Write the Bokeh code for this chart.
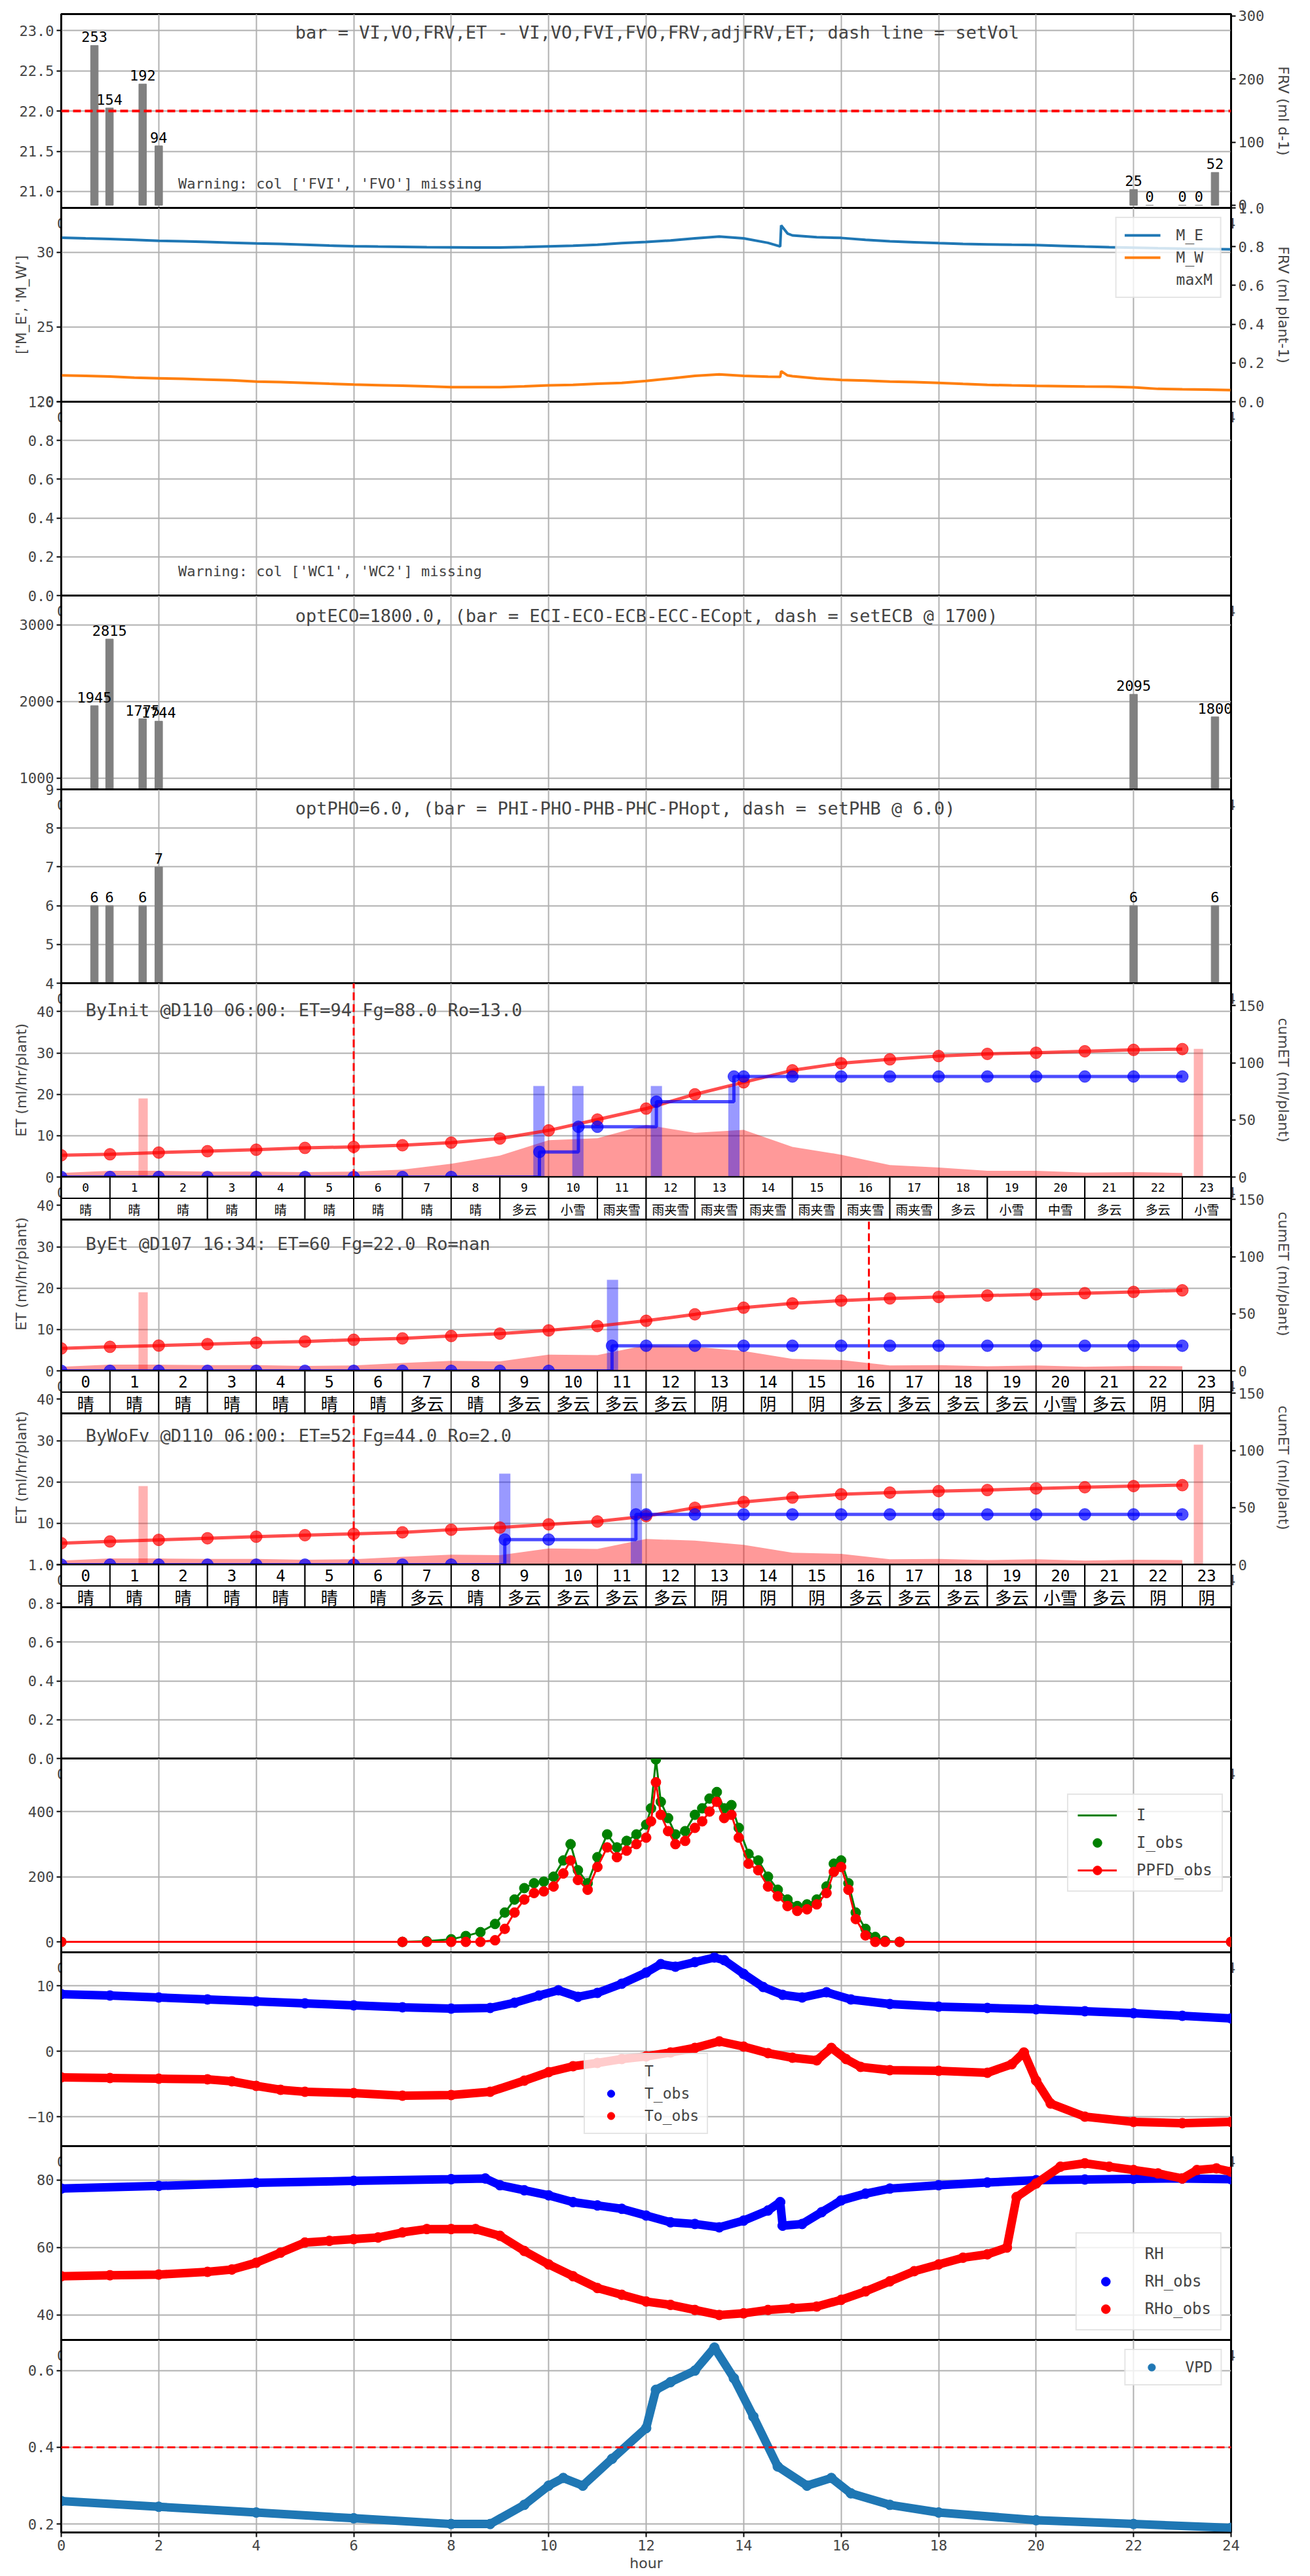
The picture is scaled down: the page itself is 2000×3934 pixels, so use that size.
from bokeh.plotting import figure
from bokeh.models import (Range1d, LinearAxis, FixedTicker, Label, Span, Legend,
                          LegendItem, NumeralTickFormatter)
from bokeh.layouts import column
from bokeh.core.properties import value
from bokeh.embed import file_html
from bokeh.resources import INLINE

MONO = "DejaVu Sans Mono"
SANS = "DejaVu Sans"
CJK = "Noto Sans CJK SC"

# ---------------- data ----------------
bar_x = [0.68, 0.99, 1.67, 2.0, 22.0, 22.33, 23.0, 23.34, 23.67]
frv = [253, 154, 192, 94, 25, 0, 0, 0, 52]
set_vol = 22.0
ec_x = [0.68, 0.99, 1.67, 2.0, 22.0, 23.67]
eco = [1945, 2815, 1775, 1744, 2095, 1800]
pho = [6, 6, 6, 7, 6, 6]
day_ticks = [0, 1, 2, 3, 4]

m_t = [0, 0.5, 1, 1.5, 2, 2.5, 3, 3.5, 4, 4.5, 5, 5.5, 6, 6.5, 7, 7.5, 8, 8.5, 9, 9.5,
       10, 10.5, 11, 11.5, 12, 12.5, 13, 13.5, 14, 14.5, 14.75, 14.77, 14.9, 15, 15.5,
       16, 16.5, 17, 17.5, 18, 18.5, 19, 19.5, 20, 20.5, 21, 21.5, 22, 22.5, 23, 23.5, 24]
m_e = [30.97, 30.92, 30.88, 30.82, 30.76, 30.72, 30.68, 30.63, 30.58, 30.55, 30.5, 30.44,
       30.4, 30.37, 30.35, 30.33, 30.32, 30.31, 30.31, 30.34, 30.39, 30.43, 30.5, 30.6,
       30.68, 30.78, 30.92, 31.04, 30.92, 30.62, 30.38, 31.79, 31.25, 31.12, 31.0, 30.95,
       30.82, 30.72, 30.66, 30.6, 30.55, 30.52, 30.49, 30.47, 30.42, 30.37, 30.33, 30.3,
       30.26, 30.23, 30.21, 30.19]
m_w = [21.75, 21.72, 21.68, 21.6, 21.56, 21.52, 21.47, 21.42, 21.34, 21.3, 21.25, 21.19,
       21.14, 21.1, 21.06, 21.02, 20.97, 20.97, 20.97, 21.02, 21.09, 21.12, 21.2, 21.25,
       21.38, 21.55, 21.72, 21.82, 21.72, 21.67, 21.65, 22.03, 21.75, 21.7, 21.55, 21.45,
       21.4, 21.34, 21.3, 21.25, 21.18, 21.12, 21.08, 21.05, 21.03, 21.01, 21.0, 20.95,
       20.85, 20.82, 20.8, 20.77]

hours = [0, 1, 2, 3, 4, 5, 6, 7, 8, 9, 10, 11, 12, 13, 14, 15, 16, 17, 18, 19, 20, 21, 22, 23]
et_a = [1.0, 1.5, 1.5, 1.3, 1.3, 1.2, 1.3, 1.8, 3.2, 5.2, 8.9, 9.4, 12.6, 10.7, 11.4, 7.3,
        5.4, 2.9, 2.3, 1.5, 1.5, 1.05, 1.2, 1.0]
et_b = [1.0, 1.5, 1.5, 1.4, 1.4, 1.2, 1.3, 1.9, 2.4, 2.3, 3.9, 3.8, 6.2, 5.8, 4.8, 2.9,
        2.6, 1.3, 1.4, 1.1, 1.3, 1.0, 1.2, 1.1]
cum_init = [19.0, 19.9, 21.4, 22.6, 23.9, 25.5, 26.4, 27.8, 30.1, 33.7, 40.8, 50.3, 59.9,
            72.4, 82.9, 93.4, 99.6, 103.0, 105.9, 107.8, 108.8, 110.1, 111.3, 112.0]
cum_byet = [19.6, 21.0, 22.1, 23.4, 24.6, 25.7, 27.2, 28.4, 30.5, 32.6, 35.4, 39.2, 43.8,
            49.5, 55.3, 59.0, 61.5, 63.4, 64.7, 65.9, 67.0, 68.0, 69.1, 70.5]
cum_wofv = [18.8, 20.3, 21.7, 23.1, 24.5, 25.8, 27.0, 28.3, 30.6, 32.5, 35.3, 37.8, 42.5,
            49.8, 54.9, 58.7, 61.6, 63.1, 64.4, 65.3, 66.7, 67.8, 68.8, 69.6]
fill_t_init = [0, 1, 2, 3, 4, 5, 6, 7, 8, 9.81, 10.61, 11, 12.21, 13.8, 14, 15, 16, 17,
               18, 19, 20, 21, 22, 23]
fill_v_init = [0, 0, 0, 0, 0, 0, 0, 0, 0, 22, 44, 44, 66, 88, 88, 88, 88, 88, 88, 88, 88,
               88, 88, 88]
fill_t_byet = [0, 1, 2, 3, 4, 5, 6, 7, 8, 9, 10, 11.3, 12, 13, 14, 15, 16, 17, 18, 19,
               20, 21, 22, 23]
fill_v_byet = [0, 0, 0, 0, 0, 0, 0, 0, 0, 0, 0, 22, 22, 22, 22, 22, 22, 22, 22, 22, 22,
               22, 22, 22]
fill_t_wofv = [0, 1, 2, 3, 4, 5, 6, 7, 8, 9.1, 10, 11.79, 12, 13, 14, 15, 16, 17, 18, 19,
               20, 21, 22, 23]
fill_v_wofv = [0, 0, 0, 0, 0, 0, 0, 0, 0, 22, 22, 44, 44, 44, 44, 44, 44, 44, 44, 44, 44,
               44, 44, 44]
vbar_init = [9.8, 10.6, 12.21, 13.8]
vbar_byet = [11.31]
vbar_wofv = [9.1, 11.8]
vol_init = [22, 22, 22, 22]
vol_byet = [22]
vol_wofv = [22, 22]
pbar_init_x = [1.68, 23.33]
pbar_init_v = [19, 31]
pbar_byet_x = [1.68]
pbar_byet_v = [19]
pbar_wofv_x = [1.68, 23.33]
pbar_wofv_v = [19, 29]
cut_init = 6.0
cut_byet = 16.57
cut_wofv = 6.0

wx_init = ['晴', '晴', '晴', '晴', '晴', '晴', '晴', '晴', '晴', '多云', '小雪', '雨夹雪',
           '雨夹雪', '雨夹雪', '雨夹雪', '雨夹雪', '雨夹雪', '雨夹雪', '多云', '小雪', '中雪',
           '多云', '多云', '小雪']
wx_b = ['晴', '晴', '晴', '晴', '晴', '晴', '晴', '多云', '晴', '多云', '多云', '多云', '多云',
        '阴', '阴', '阴', '多云', '多云', '多云', '多云', '小雪', '多云', '阴', '阴']

lt = [0, 7.0, 7.5, 8.0, 8.3, 8.6, 8.9, 9.1, 9.3, 9.5, 9.7, 9.9, 10.1, 10.3, 10.45, 10.6,
      10.8, 11.0, 11.2, 11.4, 11.6, 11.8, 12.0, 12.1, 12.2, 12.3, 12.45, 12.6, 12.8, 13.0,
      13.15, 13.3, 13.45, 13.6, 13.75, 13.9, 14.1, 14.3, 14.5, 14.7, 14.9, 15.1, 15.3,
      15.5, 15.7, 15.85, 16.0, 16.15, 16.3, 16.5, 16.7, 16.9, 17.2, 24]
i_obs = [0, 0, 2, 8, 18, 30, 55, 90, 130, 165, 180, 185, 200, 250, 300, 220, 180, 260, 330,
         290, 310, 330, 360, 410, 560, 430, 380, 330, 340, 390, 410, 440, 460, 410, 420, 350,
         270, 250, 200, 160, 130, 110, 115, 130, 170, 240, 250, 180, 90, 40, 15, 3, 0, 0]
ppfd = [0, 0, 0, 0, 0, 0, 5, 40, 90, 130, 150, 155, 170, 210, 250, 190, 160, 230, 290, 260,
        280, 300, 320, 370, 490, 390, 340, 300, 310, 350, 370, 400, 430, 380, 390, 320, 240,
        220, 170, 140, 110, 95, 100, 115, 150, 215, 230, 160, 70, 20, 0, 0, 0, 0]

tt = [0, 1, 2, 3, 4, 5, 6, 7, 8, 8.8, 9.3, 9.8, 10.2, 10.6, 11.0, 11.5, 12.0, 12.3, 12.6,
      13.0, 13.4, 13.6, 14.0, 14.4, 14.8, 15.2, 15.7, 16.2, 17, 18, 19, 20, 21, 22, 23, 24]
t_obs = [8.7, 8.5, 8.2, 7.9, 7.6, 7.3, 7.0, 6.7, 6.5, 6.6, 7.4, 8.5, 9.3, 8.3, 8.9, 10.3,
         12.0, 13.3, 12.9, 13.6, 14.3, 13.9, 11.8, 9.8, 8.6, 8.2, 9.0, 7.9, 7.2, 6.8, 6.6,
         6.4, 6.1, 5.8, 5.4, 5.0]
to_t = [0, 1, 2, 3, 3.5, 4, 4.5, 5, 6, 7, 8, 8.8, 9.5, 10, 10.5, 11, 11.5, 12, 12.5, 13,
        13.5, 14, 14.5, 15, 15.5, 15.8, 16.1, 16.4, 17, 18, 19, 19.5, 19.75, 20.0, 20.3, 21,
        22, 23, 24]
to_obs = [-4.0, -4.1, -4.2, -4.3, -4.6, -5.3, -5.9, -6.2, -6.4, -6.8, -6.7, -6.2, -4.5,
          -3.2, -2.3, -1.8, -1.2, -0.8, -0.2, 0.5, 1.5, 0.7, -0.3, -1.0, -1.4, 0.5, -1.2,
          -2.4, -2.9, -3.0, -3.3, -2.0, -0.2, -4.5, -8.0, -10.0, -10.8, -11.0, -10.8]

rh_t = [0, 2, 4, 6, 8, 8.7, 9.0, 9.5, 10, 10.5, 11, 11.5, 12, 12.5, 13, 13.5, 14, 14.5,
        14.75, 14.8, 15.2, 15.6, 16, 16.5, 17, 18, 19, 20, 21, 22, 23, 24]
rh_obs = [77.5, 78.3, 79.2, 79.8, 80.3, 80.5, 78.5, 77.0, 75.5, 73.5, 72.5, 71.5, 69.5,
          67.5, 67.0, 66.0, 68.0, 71.0, 73.5, 66.5, 67.0, 70.5, 74.0, 76.0, 77.5, 78.5,
          79.3, 80.0, 80.2, 80.4, 80.5, 80.3]
rho_t = [0, 1, 2, 3, 3.5, 4, 4.5, 5, 5.5, 6, 6.5, 7, 7.5, 8, 8.5, 9, 9.5, 10, 10.5, 11,
         11.5, 12, 12.5, 13, 13.5, 14, 14.5, 15, 15.5, 16, 16.5, 17, 17.5, 18, 18.5, 19,
         19.4, 19.6, 20, 20.5, 21, 21.5, 22, 22.5, 23, 23.3, 23.7, 24]
rho_obs = [51.5, 51.8, 52.0, 52.8, 53.5, 55.5, 58.5, 61.5, 62.0, 62.5, 63.0, 64.5, 65.5,
           65.5, 65.5, 63.5, 59.0, 55.0, 51.5, 48.0, 46.0, 44.0, 43.0, 41.5, 40.0, 40.5,
           41.5, 42.0, 42.5, 44.5, 47.0, 50.0, 53.0, 55.0, 57.0, 58.0, 60.0, 75.0, 79.0,
           84.0, 85.0, 84.0, 83.0, 82.0, 80.5, 83.0, 83.5, 82.5]

vt = [0, 2, 4, 6, 8, 8.8, 9.5, 10, 10.3, 10.7, 11.3, 12, 12.2, 12.5, 13, 13.4, 13.8, 14.2,
      14.7, 15.3, 15.8, 16.2, 17, 18, 20, 22, 24]
vpd = [0.26, 0.245, 0.23, 0.215, 0.2, 0.2, 0.25, 0.3, 0.32, 0.3, 0.37, 0.45, 0.55, 0.57,
       0.6, 0.66, 0.58, 0.48, 0.35, 0.3, 0.32, 0.28, 0.25, 0.23, 0.21, 0.2, 0.19]
vpd_set = 0.4

# ---------------- layout helpers ----------------
W = 1998
FH = 296
LB = 93
RB = 119
B = 44          # hidden border above/below every frame; neighbours overlap there
TOP = 21
BOT = 60
XR = Range1d(0, 24)
XT = [0, 2, 4, 6, 8, 10, 12, 14, 16, 18, 20, 22, 24]


def style_axis(ax, fmt=None):
    ax.major_label_text_font = MONO
    ax.major_label_text_font_size = "22px"
    ax.axis_label_text_font = SANS
    ax.axis_label_text_font_size = "22px"
    ax.axis_label_text_font_style = "normal"
    ax.axis_line_color = "black"
    ax.axis_line_width = 2
    ax.major_tick_out = 7
    ax.major_tick_in = 0
    ax.minor_tick_out = 0
    ax.minor_tick_in = 0
    ax.major_tick_line_width = 2
    ax.major_label_standoff = 4
    if fmt:
        ax.formatter = NumeralTickFormatter(format=fmt)


def mk(y0, y1, ticks, fmt=None, first=False, last=False, label=None):
    top = TOP if first else B
    bottom = BOT if last else B
    p = figure(width=W, height=FH + top + bottom, x_range=XR, y_range=Range1d(y0, y1),
               output_backend="svg", toolbar_location=None,
               min_border_left=LB, min_border_right=RB, min_border_top=top,
               min_border_bottom=bottom, x_axis_location="below" if last else None)
    if not first:
        p.margin = (-2 * B, 0, 0, 0)
    p.outline_line_color = "black"
    p.outline_line_width = 3
    p.background_fill_color = "white"
    p.border_fill_alpha = 0
    p.xgrid.ticker = FixedTicker(ticks=XT)
    p.ygrid.ticker = FixedTicker(ticks=ticks)
    for g in (p.xgrid, p.ygrid):
        g.grid_line_color = "#b0b0b0"
        g.grid_line_width = 2
    p.yaxis.ticker = FixedTicker(ticks=ticks)
    style_axis(p.yaxis[0], fmt)
    if label:
        p.yaxis.axis_label = label
        p.yaxis.axis_label_standoff = 8
    if last:
        p.xaxis.ticker = FixedTicker(ticks=XT)
        style_axis(p.xaxis[0])
        p.xaxis.axis_label = "hour"
        p.xaxis.axis_label_standoff = 4
    else:
        # secondary day axis, mostly hidden under the next panel
        p.extra_x_ranges["d"] = Range1d(0, 4)
        dax = LinearAxis(x_range_name="d", ticker=FixedTicker(ticks=day_ticks))
        style_axis(dax)
        dax.axis_line_color = None
        dax.major_label_standoff = 8
        p.add_layout(dax, "below")
    return p


def right_axis(p, name, y0, y1, ticks, label, fmt=None):
    p.extra_y_ranges[name] = Range1d(y0, y1)
    ax = LinearAxis(y_range_name=name, ticker=FixedTicker(ticks=ticks), axis_label=label)
    style_axis(ax, fmt)
    ax.axis_label_standoff = 14
    p.add_layout(ax, "right")


def txt(p, x, y, s, size="27px", align="left"):
    p.add_layout(Label(x=x, y=y, text=s, text_font=MONO, text_font_size=size,
                       text_align=align, text_baseline="middle"))


def legend(p, items, loc, margin=14, big=False):
    lg = Legend(items=[LegendItem(label=l, renderers=r) for l, r in items], location=loc)
    lg.label_text_font = MONO
    lg.label_text_font_size = "24px" if big else "23px"
    lg.glyph_width = 60 if big else 55
    lg.glyph_height = 34 if big else 28
    lg.label_height = 34 if big else 28
    lg.label_standoff = 30 if big else 24
    lg.spacing = 8 if big else 6
    lg.padding = 14 if big else 12
    lg.margin = margin
    lg.border_line_color = "#cccccc"
    lg.border_line_width = 2
    lg.background_fill_alpha = 0.8
    p.add_layout(lg)


def table(p, wx, fs_h, fs_w):
    p.extra_y_ranges["tbl"] = Range1d(0, FH)
    rh = 32.5
    left = hours
    right = [h + 1 for h in hours]
    mid = [h + 0.5 for h in hours]
    p.quad(left=left, right=right, top=FH, bottom=FH - rh, fill_color="white",
           line_color="black", line_width=2, y_range_name="tbl")
    p.quad(left=left, right=right, top=FH - rh, bottom=FH - 2 * rh, fill_color="white",
           line_color="black", line_width=2, y_range_name="tbl")
    p.text(x=mid, y=FH - rh / 2, text=[str(h) for h in hours], text_align="center",
           text_baseline="middle", text_font=value(MONO), text_font_size=fs_h,
           y_range_name="tbl")
    p.text(x=mid, y=FH - 1.5 * rh, text=wx, text_align="center", text_baseline="middle",
           text_font=value(CJK), text_font_size=fs_w, y_range_name="tbl")
    p.segment(x0=[0], x1=[24], y0=[FH - 2 * rh], y1=[FH - 2 * rh], line_color="black",
              line_width=3, y_range_name="tbl")


def et_panel(p, area, cum, ft, fv, vb, vv, pbx, pbv, cut, label, ly):
    right_axis(p, "cum", 0, 169.7, [0, 50, 100, 150], "cumET (ml/plant)")
    p.varea(x=hours, y1=[0 for _ in hours], y2=area, fill_color="red", fill_alpha=0.4)
    p.vbar(x=vb, top=vv, width=0.23, fill_color="blue", fill_alpha=0.4, line_alpha=0)
    p.vbar(x=pbx, top=pbv, width=0.19, fill_color="red", fill_alpha=0.3, line_alpha=0)
    p.line(hours, cum, color="red", line_width=5, alpha=0.7, y_range_name="cum")
    p.scatter(hours, cum, size=18, color="red", alpha=0.7, y_range_name="cum")
    p.step(ft, fv, mode="after", color="blue", line_width=5, alpha=0.7, y_range_name="cum")
    p.scatter(ft, fv, size=18, color="blue", alpha=0.7, y_range_name="cum")
    p.segment(x0=[cut], x1=[cut], y0=[0], y1=[46.87], line_color="red", line_width=3,
              line_dash="12 6")
    txt(p, 0.5, ly, label)


# ---------------- panels ----------------
ET_T = [0, 10, 20, 30, 40]
P01 = [0, 0.2, 0.4, 0.6, 0.8, 1.0]

# 1
p1 = mk(20.796, 23.206, [21.0, 21.5, 22.0, 22.5, 23.0], fmt="0.0", first=True)
right_axis(p1, "r", -4.2, 302.7, [0, 100, 200, 300], "FRV (ml d-1)")
p1.vbar(x=bar_x, top=frv, width=0.155, color="#808080", y_range_name="r")
p1.text(x=bar_x, y=frv, text=[str(v) for v in frv], y_range_name="r", text_align="center",
        text_baseline="bottom", y_offset=-5, text_font=value(MONO), text_font_size="22px")
p1.add_layout(Span(location=set_vol, dimension="width", line_color="red", line_width=4,
                   line_dash="12 6"))
txt(p1, 4.8, 22.98, "bar = VI,VO,FRV,ET - VI,VO,FVI,FVO,FRV,adjFRV,ET; dash line = setVol")
txt(p1, 2.4, 21.1, "Warning: col ['FVI', 'FVO'] missing", size="22px")

# 2
p2 = mk(19.99, 32.96, [20, 25, 30], label="['M_E', 'M_W']")
right_axis(p2, "r", 0, 1.0, P01, "FRV (ml plant-1)", fmt="0.0")
r_me = p2.line(m_t, m_e, color="#1f77b4", line_width=4)
r_mw = p2.line(m_t, m_w, color="#ff7f0e", line_width=4)
r_mx = p2.line([], [], color="#2ca02c", line_width=4)
legend(p2, [("M_E", [r_me]), ("M_W", [r_mw]), ("maxM", [r_mx])], "top_right")

# 3
p3 = mk(0, 1.0, P01, fmt="0.0")
txt(p3, 2.4, 0.125, "Warning: col ['WC1', 'WC2'] missing", size="22px")

# 4
p4 = mk(854, 3383, [1000, 2000, 3000])
p4.vbar(x=ec_x, top=eco, width=0.155, color="#808080")
p4.text(x=ec_x, y=eco, text=[str(v) for v in eco], text_align="center",
        text_baseline="bottom", y_offset=-5, text_font=value(MONO), text_font_size="22px")
txt(p4, 4.8, 3117, "optECO=1800.0, (bar = ECI-ECO-ECB-ECC-ECopt, dash = setECB @ 1700)")

# 5
p5 = mk(4, 9, [4, 5, 6, 7, 8, 9])
p5.vbar(x=ec_x, top=pho, width=0.155, color="#808080")
p5.text(x=ec_x, y=pho, text=[str(v) for v in pho], text_align="center",
        text_baseline="bottom", y_offset=-5, text_font=value(MONO), text_font_size="22px")
txt(p5, 4.8, 8.51, "optPHO=6.0, (bar = PHI-PHO-PHB-PHC-PHopt, dash = setPHB @ 6.0)")

# 6-8
p6 = mk(0, 46.87, ET_T, label="ET (ml/hr/plant)")
et_panel(p6, et_a, cum_init, fill_t_init, fill_v_init, vbar_init, vol_init, pbar_init_x,
         pbar_init_v, cut_init, "ByInit @D110 06:00: ET=94 Fg=88.0 Ro=13.0", 40.4)
p7 = mk(0, 46.87, ET_T, label="ET (ml/hr/plant)")
et_panel(p7, et_b, cum_byet, fill_t_byet, fill_v_byet, vbar_byet, vol_byet, pbar_byet_x,
         pbar_byet_v, cut_byet, "ByEt @D107 16:34: ET=60 Fg=22.0 Ro=nan", 30.7)
p8 = mk(0, 46.87, ET_T, label="ET (ml/hr/plant)")
et_panel(p8, et_b, cum_wofv, fill_t_wofv, fill_v_wofv, vbar_wofv, vol_wofv, pbar_wofv_x,
         pbar_wofv_v, cut_wofv, "ByWoFv @D110 06:00: ET=52 Fg=44.0 Ro=2.0", 31.2)

# 9
p9 = mk(0, 1.0, P01, fmt="0.0")

# 10
p10 = mk(-32, 563, [0, 200, 400])
r_i = p10.line(lt, i_obs, color="green", line_width=3)
r_io = p10.scatter(lt, i_obs, size=15, color="green")
r_pl = p10.line(lt, ppfd, color="red", line_width=3)
r_ps = p10.scatter(lt, ppfd, size=15, color="red")
legend(p10, [("I", [r_i]), ("I_obs", [r_io]), ("PPFD_obs", [r_pl, r_ps])],
       (1536, 92), margin=0, big=True)

# 11
p11 = mk(-14.5, 15.1, [-10, 0, 10])
p11.line(tt, t_obs, color="blue", line_width=13)
r_tob = p11.scatter(tt, t_obs, size=15, color="blue")
p11.line(to_t, to_obs, color="red", line_width=13)
r_too = p11.scatter(to_t, to_obs, size=15, color="red")
r_tl = p11.line([], [], color="blue", line_width=3)
legend(p11, [("T", [r_tl]), ("T_obs", [r_tob]), ("To_obs", [r_too])], (798, 18), margin=0)

# 12
p12 = mk(32.6, 90.1, [40, 60, 80])
p12.line(rh_t, rh_obs, color="blue", line_width=13)
r_rob = p12.scatter(rh_t, rh_obs, size=15, color="blue")
p12.line(rho_t, rho_obs, color="red", line_width=13)
r_roo = p12.scatter(rho_t, rho_obs, size=15, color="red")
r_rl = p12.line([], [], color="blue", line_width=3)
legend(p12, [("RH", [r_rl]), ("RH_obs", [r_rob]), ("RHo_obs", [r_roo])], "bottom_right",
       big=True)

# 13
p13 = mk(0.178, 0.68, [0.2, 0.4, 0.6], fmt="0.0", last=True)
p13.line(vt, vpd, color="#1f77b4", line_width=13)
r_v = p13.scatter(vt, vpd, size=15, color="#1f77b4")
p13.add_layout(Span(location=vpd_set, dimension="width", line_color="red", line_width=3,
                    line_dash="12 6"))
legend(p13, [("VPD", [r_v])], "top_right")

# tables of the ET panels overlap the top of the following panel
table(p7, wx_init, "18px", "19px")
table(p8, wx_b, "24px", "26px")
table(p9, wx_b, "24px", "26px")

lay = column(p1, p2, p3, p4, p5, p6, p7, p8, p9, p10, p11, p12, p13, spacing=0)
open("out.html", "w").write(file_html(lay, INLINE))
